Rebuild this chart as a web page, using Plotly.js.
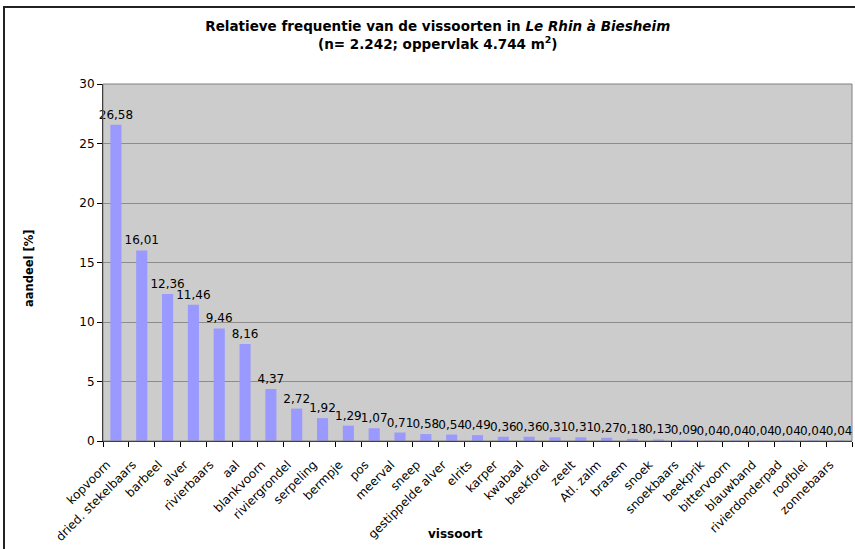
<!DOCTYPE html>
<html>
<head>
<meta charset="utf-8">
<script src="https://cdn.plot.ly/plotly-3.0.1.min.js"></script>
<style>
  html, body { margin: 0; padding: 0; background: #ffffff; }
  #chart { width: 855px; height: 549px; }
</style>
</head>
<body>
<div id="chart"></div>
<script>
const species = ["kopvoorn", "dried. stekelbaars", "barbeel", "alver", "rivierbaars", "aal",
  "blankvoorn", "riviergrondel", "serpeling", "bermpje", "pos", "meerval", "sneep",
  "gestippelde alver", "elrits", "karper", "kwabaal", "beekforel", "zeelt", "Atl. zalm",
  "brasem", "snoek", "snoekbaars", "beekprik", "bittervoorn", "blauwband",
  "rivierdonderpad", "roofblei", "zonnebaars"];
const share = [26.58, 16.01, 12.36, 11.46, 9.46, 8.16, 4.37, 2.72, 1.92, 1.29, 1.07, 0.71,
  0.58, 0.54, 0.49, 0.36, 0.36, 0.31, 0.31, 0.27, 0.18, 0.13, 0.09, 0.04, 0.04, 0.04,
  0.04, 0.04, 0.04];
const yTicks = [0, 5, 10, 15, 20, 25, 30];

const FONT = "DejaVu Sans, Verdana, sans-serif";
const labels = share.map(v => v.toFixed(2).replace('.', ','));

const trace = {
  type: 'bar',
  x: species,
  y: share,
  text: labels,
  textposition: 'outside',
  constraintext: 'none',
  textfont: { family: FONT, size: 12, color: '#000000' },
  cliponaxis: false,
  marker: { color: '#9999ff', line: { width: 0 } },
  hoverinfo: 'x+y'
};

const layout = {
  width: 855,
  height: 549,
  margin: { l: 103, r: 3, t: 84, b: 108, pad: 0 },
  paper_bgcolor: '#ffffff',
  plot_bgcolor: '#cccccc',
  showlegend: false,
  bargap: 0.57,
  font: { family: FONT, size: 11, color: '#000000' },
  title: {
    text: '<b>Relatieve frequentie van de vissoorten in <i>Le Rhin à Biesheim</i><br>(n= 2.242; oppervlak 4.744 m<sup>2</sup>)</b>',
    font: { family: FONT, size: 13.5, color: '#000000' },
    x: 0.512, xref: 'container', xanchor: 'center',
    y: 1 - 31 / 549, yref: 'container', yanchor: 'top'
  },
  xaxis: {
    type: 'category',
    showline: true, linecolor: '#000000', linewidth: 1,
    ticks: 'outside', ticklen: 5, tickcolor: '#000000', tickson: 'boundaries',
    tickangle: -45,
    ticklabelshift: -9,
    ticklabelstandoff: 11,
    tickfont: { family: FONT, size: 12, color: '#000000' },
    showgrid: false, zeroline: false,
    fixedrange: true
  },
  yaxis: {
    range: [0, 30],
    tickvals: yTicks,
    ticktext: yTicks.map(String),
    showline: true, linecolor: '#000000', linewidth: 1,
    ticks: 'outside', ticklen: 5, tickcolor: '#000000',
    tickfont: { family: FONT, size: 12, color: '#000000' },
    showgrid: true, gridcolor: '#8c8c8c', gridwidth: 1,
    zeroline: false,
    fixedrange: true
  },
  annotations: [
    { text: '<b>aandeel [%]</b>', textangle: -90, showarrow: false,
      xref: 'paper', yref: 'paper', x: (29 - 103) / 749, y: (441 - 268) / 357,
      xanchor: 'center', yanchor: 'middle',
      font: { family: FONT, size: 11.5, color: '#000000' } },
    { text: '<b>vissoort</b>', showarrow: false,
      xref: 'paper', yref: 'paper', x: (455 - 103) / 749, y: (441 - 534) / 357,
      xanchor: 'center', yanchor: 'middle',
      font: { family: FONT, size: 12, color: '#000000' } }
  ],
  shapes: [
    { type: 'rect', xref: 'paper', yref: 'paper', x0: 0, x1: 1, y0: 0, y1: 1,
      line: { color: '#808080', width: 1 }, layer: 'above' },
    { type: 'rect', xref: 'paper', yref: 'paper',
      x0: (4 - 103) / 749, x1: (870 - 103) / 749,
      y0: (441 - 580) / 357, y1: (441 - 7) / 357,
      line: { color: '#222222', width: 2 }, layer: 'below' }
  ]
};

Plotly.newPlot('chart', [trace], layout, { displayModeBar: false, staticPlot: true });
</script>
</body>
</html>
